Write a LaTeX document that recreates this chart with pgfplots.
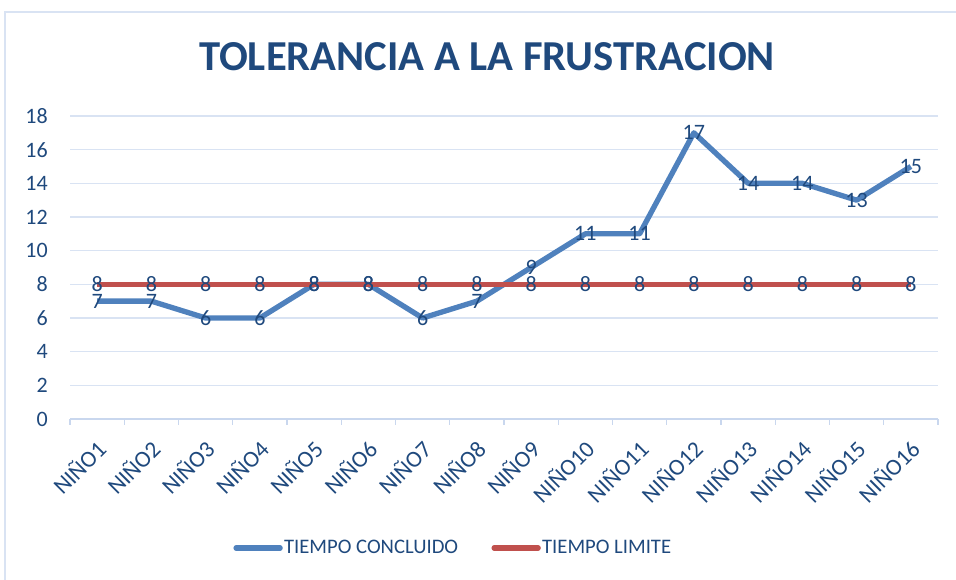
\documentclass[border=0pt]{standalone}
\usepackage{pgfplots}
\usepackage{pgfplotstable}
\pgfplotsset{compat=1.18}
\usepackage{fontspec}
\setmainfont{Carlito}
\definecolor{serieA}{HTML}{4F81BD}
\definecolor{serieB}{HTML}{C0504D}
\definecolor{texto}{HTML}{1F497D}
\definecolor{rejilla}{HTML}{D9E3F3}
\definecolor{eje}{HTML}{C9D7EE}

\pgfplotstableread{
n concluido limite
1  7  8
2  7  8
3  6  8
4  6  8
5  8  8
6  8  8
7  6  8
8  7  8
9  9  8
10 11 8
11 11 8
12 17 8
13 14 8
14 14 8
15 13 8
16 15 8
}\datos

\begin{document}
\begin{tikzpicture}
\useasboundingbox (0pt,0pt) rectangle (717pt,435pt);
% marco del grafico
\draw[rejilla, line width=1.2pt] (3.75pt,-20pt) -- (3.75pt,426pt) -- (740pt,426pt);
\node[font=\bfseries\fontsize{32}{38}\selectfont, text=texto] at (365.25pt,392.25pt) {TOLERANCIA A LA FRUSTRACION};
\begin{axis}[
  at={(52.5pt,120.75pt)}, anchor=south west,
  scale only axis, width=651pt, height=227.25pt,
  xmin=0.5, xmax=16.5, ymin=0, ymax=18,
  ytick={0,2,...,18},
  xtick={1,...,16},
  xticklabels={NIÑO1,NIÑO2,NIÑO3,NIÑO4,NIÑO5,NIÑO6,NIÑO7,NIÑO8,NIÑO9,NIÑO10,NIÑO11,NIÑO12,NIÑO13,NIÑO14,NIÑO15,NIÑO16},
  minor xtick={0.5,1.5,...,16.5},
  axis lines*=left,
  separate axis lines,
  x axis line style={eje, line width=1.1pt, -},
  y axis line style={draw=none},
  tick align=outside,
  major tick length=0pt,
  minor tick length=4.5pt,
  minor x tick style={eje, line width=1.1pt},
  ytick style={draw=none},
  ymajorgrids,
  grid style={rejilla, line width=1.1pt},
  /pgf/number format/assume math mode=true,
  ticklabel style={font=\fontsize{16.5}{19}\selectfont, text=texto},
  yticklabel style={anchor=east, inner sep=0pt, xshift=-16.5pt},
  xticklabel style={font=\fontsize{17.5}{20}\selectfont, xshift=-2pt, yshift=-14pt, rotate=45, anchor=north east, inner sep=0pt},
  clip=false,
  legend columns=2,
  legend style={draw=none, fill=none, at={(0.4412,-0.4257)}, anchor=center,
    font=\fontsize{15.5}{18}\selectfont, text=texto,
    nodes={inner sep=1pt},
    /tikz/every even column/.append style={column sep=24pt}},
  legend image code/.code={\draw[#1, line cap=round] (1.9pt,0pt) -- (34.9pt,0pt);},
  every node near coord/.append style={font=\fontsize{16.5}{19}\selectfont, text=texto},
  nodes near coords align=center,
]
\addplot[serieA, line width=4pt, line join=round] table[x=n, y=concluido] {\datos};
\addlegendentry{TIEMPO CONCLUIDO}
\addplot[serieB, line width=4pt, line join=round] table[x=n, y=limite] {\datos};
\addlegendentry{TIEMPO LIMITE}
\addplot[draw=none, forget plot, nodes near coords] table[x=n, y=concluido] {\datos};
\addplot[draw=none, forget plot, nodes near coords] table[x=n, y=limite] {\datos};
\end{axis}
\end{tikzpicture}
\end{document}
